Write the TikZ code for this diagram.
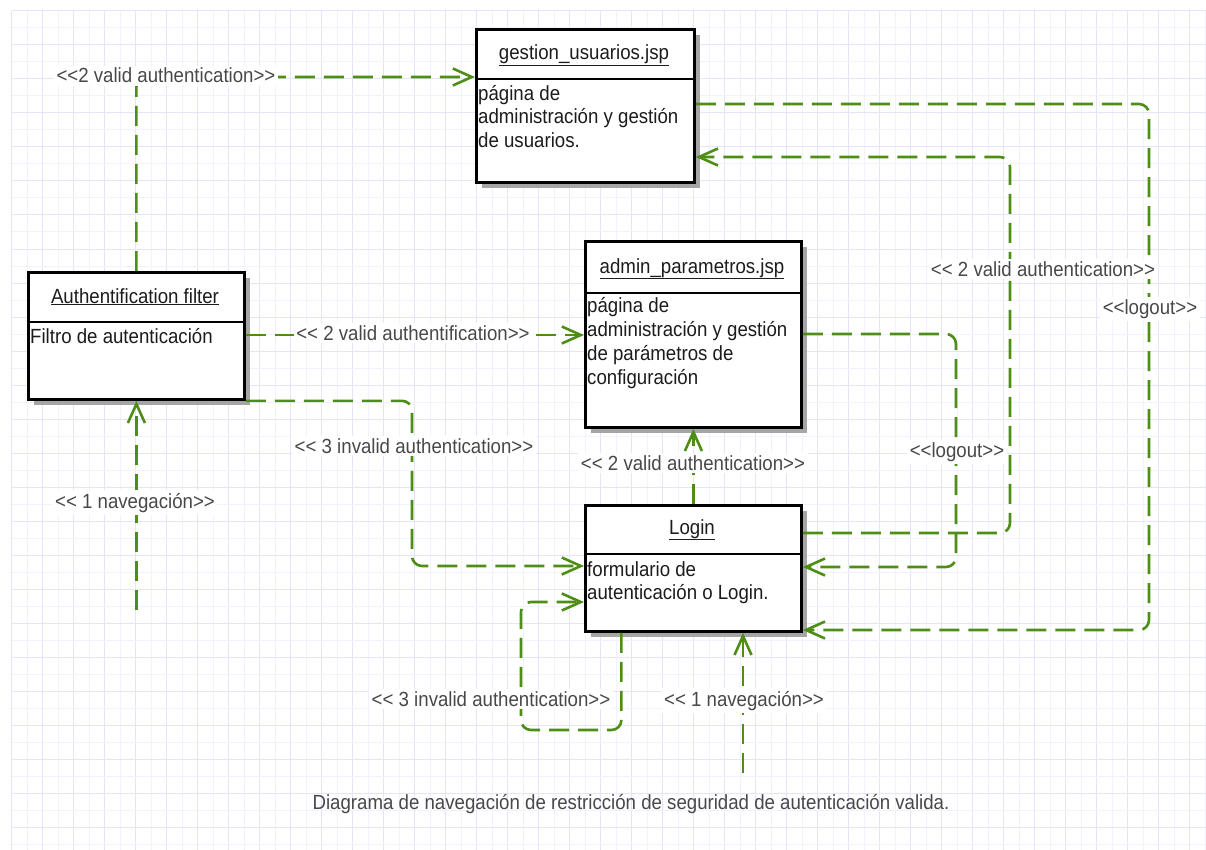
\documentclass[tikz,border=0pt]{standalone}
\usepackage{fontspec}
\setmainfont{Liberation Sans}[FakeStretch=0.91]
\usetikzlibrary{arrows.meta,calc,shadows}
\definecolor{conngreen}{RGB}{78,142,22}
\definecolor{gridlight}{RGB}{242,242,253}
\definecolor{griddark}{RGB}{229,229,250}
\definecolor{lbltext}{RGB}{72,72,72}
\definecolor{boxtext}{RGB}{28,28,28}
\definecolor{shadowgray}{RGB}{165,165,165}
\newcommand{\lsg}{<{}<}
\newcommand{\rsg}{>{}>}
\begin{document}
\begin{tikzpicture}[x=1pt,y=-1pt,
  txt/.style={font=\fontsize{20.5}{24}\selectfont},
  conn/.style={draw=conngreen, line width=2.6pt, dash pattern=on 20pt off 9pt,
    rounded corners=10pt, -{Straight Barb[length=19pt,width=17pt]}},
  connplain/.style={conn, -},
  umlbox/.style={draw=black, line width=2.8pt, fill=white, inner sep=0pt,
    anchor=north west,
    drop shadow={shadow xshift=6pt, shadow yshift=-6pt, fill=shadowgray, opacity=1}},
  divider/.style={draw=black, line width=2.8pt},
  lbl/.style={txt, fill=white, text=lbltext, inner sep=2.5pt, anchor=base},
  boxtitle/.style={txt, text=boxtext, inner sep=0pt, anchor=base},
  boxline/.style={txt, text=boxtext, inner sep=0pt, anchor=base west},
  caption/.style={txt, text=lbltext, inner sep=0pt, anchor=base}
]
\useasboundingbox (0,0) rectangle (1206,850);
\fill[white] (0,0) rectangle (1206,850);
% grid
\foreach \i in {0,...,77}{
  \pgfmathsetmacro{\gx}{11.5+15.5*\i}
  \ifodd\i \def\gc{gridlight}\else\def\gc{griddark}\fi
  \draw[\gc, line width=1pt] (\gx,11) -- (\gx,850);
}
\foreach \j in {0,...,49}{
  \pgfmathsetmacro{\gy}{11+17*\j}
  \ifodd\j \def\gc{gridlight}\else\def\gc{griddark}\fi
  \draw[\gc, line width=1pt] (11.5,\gy) -- (1206,\gy);
}

% boxes
\node[umlbox, minimum width=218pt, minimum height=153pt] (G) at (475,28) {};
\node[umlbox, minimum width=216pt, minimum height=186pt] (A) at (584,240) {};
\node[umlbox, minimum width=216pt, minimum height=127pt] (F) at (27,271) {};
\node[umlbox, minimum width=216pt, minimum height=126pt] (L) at (584,504) {};

\draw[divider] ([yshift=-51pt]G.north west) -- ([yshift=-51pt]G.north east);
\draw[divider] ([yshift=-53pt]A.north west) -- ([yshift=-53pt]A.north east);
\draw[divider] ([yshift=-51pt]F.north west) -- ([yshift=-51pt]F.north east);
\draw[divider] ([yshift=-50pt]L.north west) -- ([yshift=-50pt]L.north east);

% anchors for connectors
\coordinate (c3) at (412,566);
\coordinate (n1) at (135,610);
\coordinate (c6) at (1010,157);
\coordinate (c7) at (1149,630);
\coordinate (c8) at (956,567);
\coordinate (c9) at (521,730);
\coordinate (n2) at (743,773);

% connectors
\draw[conn] (F.north) |- ([yshift=-49pt]G.north west);
\draw[conn] ([yshift=-64pt]F.north east) -- ([yshift=-64pt]F.north east -| A.west);
\draw[conn] (F.south east) -| (c3) -- (c3 -| L.west);
\draw[conn] (F.south |- n1) -- (F.south);
\draw[conn] (L.north) -- (A.south);
\draw[conn] ([yshift=-29pt]L.north east) -| (c6) -- (c6 -| G.east);
\draw[conn] ([yshift=-76pt]G.north east) -| (c7) -- (c7 -| L.east);
\draw[conn] ([yshift=-94pt]A.north east) -| (c8) -- (c8 -| L.east);
\draw[conn] ([xshift=-72pt]L.south) |- (c9) |- ([yshift=-98pt]L.north west);
\draw[conn] (n2) -- (n2 |- L.south);

% labels
\node[lbl] (l1) at (166,83) {\lsg2 valid authentication\rsg};
\node[lbl] (l2) at (413,340) {\lsg{} 2 valid authentification\rsg};
\node[lbl] (l3) at (414,453) {\lsg{} 3 invalid authentication\rsg};
\node[lbl] (l4) at (135,508) {\lsg{} 1 navegación\rsg};
\node[lbl] (l5) at (693,470) {\lsg{} 2 valid authentication\rsg};
\node[lbl] (l6) at (1043,276) {\lsg{} 2 valid authentication\rsg};
\node[lbl] (l7) at (1150,314) {\lsg logout\rsg};
\node[lbl] (l8) at (957,457) {\lsg logout\rsg};
\node[lbl] (l9) at (491,706) {\lsg{} 3 invalid authentication\rsg};
\node[lbl] (l10) at (744,706) {\lsg{} 1 navegación\rsg};

% box texts
\node[boxtitle] (G-t) at (584,60) {\underline{gestion\_usuarios.jsp}};
\node[boxline] (G-1) at (478,101) {página de};
\node[boxline] (G-2) at (478,124) {administración y gestión};
\node[boxline] (G-3) at (478,148) {de usuarios.};

\node[boxtitle] (A-t) at (692,273) {\underline{admin\_parametros.jsp}};
\node[boxline] (A-1) at (587,312) {página de};
\node[boxline] (A-2) at (587,336) {administración y gestión};
\node[boxline] (A-3) at (587,360) {de parámetros de};
\node[boxline] (A-4) at (587,384) {configuración};

\node[boxtitle] (F-t) at (135,303) {\underline{Authentification filter}};
\node[boxline] (F-1) at (30,343) {Filtro de autenticación};

\node[boxtitle] (L-t) at (692,534) {\underline{Login}};
\node[boxline] (L-1) at (587,576) {formulario de};
\node[boxline] (L-2) at (587,599) {autenticación o Login.};

\node[caption] (cap) at (631,809) {Diagrama de navegación de restricción de seguridad de autenticación valida.};
\end{tikzpicture}
\end{document}
